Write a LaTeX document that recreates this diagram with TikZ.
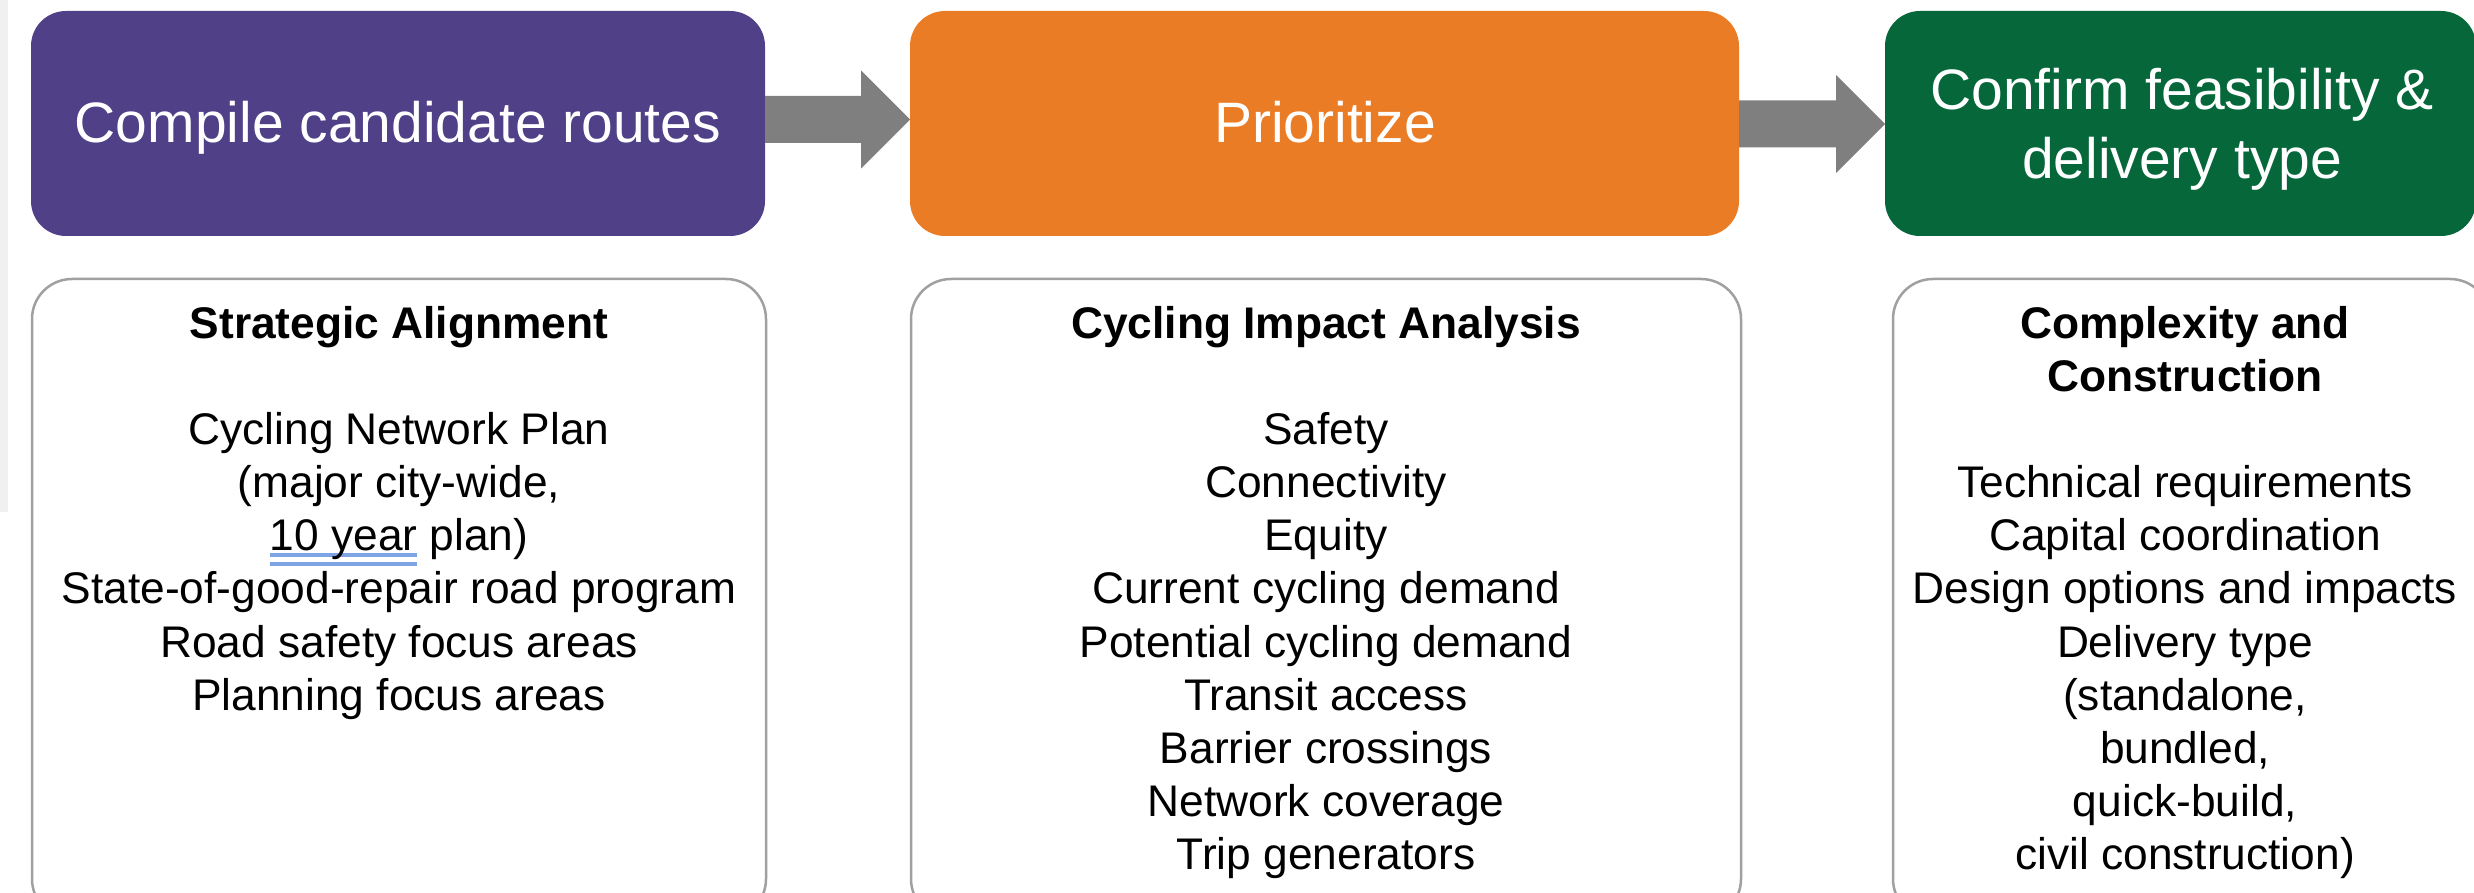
\documentclass[tikz,border=0pt]{standalone}
\usepackage{fontspec}
\setmainfont{Liberation Sans}
\usetikzlibrary{calc}
\definecolor{hpurple}{RGB}{79,64,135}
\definecolor{horange}{RGB}{235,124,38}
\definecolor{hgreen}{RGB}{6,104,58}
\definecolor{agray}{RGB}{127,127,127}
\definecolor{bgray}{RGB}{160,160,160}
\definecolor{stripgray}{RGB}{240,240,240}
\definecolor{spellblue}{RGB}{125,165,230}
\newcommand\colist[1]{\begin{tabular}[t]{@{}c@{}}#1\end{tabular}}
\newcommand\spellmark[1]{\leavevmode\setbox0\hbox{#1}\rlap{\textcolor{spellblue}{\rule[-6.5pt]{\wd0}{4pt}}}\rlap{\textcolor{spellblue}{\rule[-15.5pt]{\wd0}{4pt}}}\box0\relax}
\begin{document}
\begin{tikzpicture}[x=1pt,y=-1pt,
  hdrbox/.style={rectangle, rounded corners=35pt, inner sep=0pt, outer sep=0pt, draw=none, minimum height=225pt},
  listbox/.style={rectangle, rounded corners=40pt, draw=bgray, line width=2.5pt, fill=white, inner sep=0pt, outer sep=0pt, minimum height=640pt},
  hdrtext/.style={anchor=base, text=white, inner sep=0pt, font=\fontsize{57}{68.5}\selectfont},
  listtext/.style={anchor=base, text=black, inner sep=0pt, font=\fontsize{44.3}{53.2}\selectfont},
  fatarrow/.style={fill=agray, to path={let \p1=(\tikztostart), \p2=(\tikztotarget) in
     ({\x1},{\y1+23.5pt}) -- ({\x2-49pt},{\y1+23.5pt}) -- ({\x2-49pt},{\y1+49pt}) -- (\x2,\y1)
     -- ({\x2-49pt},{\y1-49pt}) -- ({\x2-49pt},{\y1-23.5pt}) -- ({\x1},{\y1-23.5pt}) -- cycle}}
]
\useasboundingbox (0,0) rectangle (2474,893);
\clip (0,0) rectangle (2474,893);
\fill[stripgray] (0,0) rectangle (8,512);

% header boxes
\node[hdrbox, fill=hpurple, minimum width=734pt] (h1) at (398,123.5) {};
\node[hdrbox, fill=horange, minimum width=829pt] (h2) at (1324.5,123.5) {};
\node[hdrbox, fill=hgreen, minimum width=591pt] (h3) at (2180.5,123.5) {};

% header texts
\node[hdrtext] (h1t) at (398,143) {Compile candidate routes};
\node[hdrtext] (h2t) at (1325,143) {Prioritize};
\node[hdrtext] (h3t) at (2182,110) {\colist{Confirm feasibility \&\\ delivery type}};

% arrows
\path[fatarrow] ([yshift=4pt]h1.east) to ([yshift=4pt]h2.west);
\path[fatarrow] ([yshift=-0.5pt]h2.east) to ([yshift=-0.5pt]h3.west);

% list boxes
\node[listbox, minimum width=734pt] (b1) at (399,599) {};
\node[listbox, minimum width=830pt] (b2) at (1326,599) {};
\node[listbox, minimum width=597pt] (b3) at (2191.5,599) {};

% list texts
\node[listtext] (b1t) at (399,338) {\colist{\textbf{Strategic Alignment}\\ \\
  Cycling Network Plan\\ (major city-wide,\\ \spellmark{10 year} plan)\\
  State-of-good-repair road program\\ Road safety focus areas\\ Planning focus areas}};
\node[listtext] (b2t) at (1326,338) {\colist{\textbf{Cycling Impact Analysis}\\ \\
  Safety\\ Connectivity\\ Equity\\ Current cycling demand\\ Potential cycling demand\\
  Transit access\\ Barrier crossings\\ Network coverage\\ Trip generators}};
\node[listtext] (b3t) at (2185,338) {\colist{\textbf{Complexity and}\\ \textbf{Construction}\\ \\
  Technical requirements\\ Capital coordination\\ Design options and impacts\\ Delivery type\\
  (standalone,\\ bundled,\\ quick-build,\\ civil construction)}};
\end{tikzpicture}
\end{document}
